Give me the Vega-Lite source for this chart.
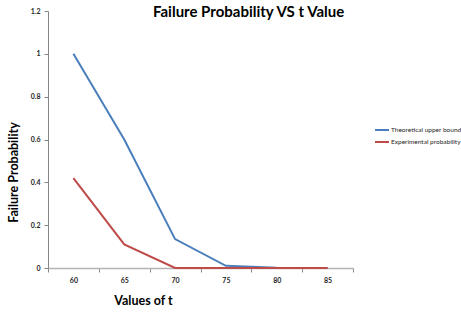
{
  "$schema": "https://vega.github.io/schema/vega-lite/v6.json",
  "width": 305,
  "height": 257,
  "autosize": {"type": "none"},
  "padding": {"left": 48, "top": 11, "right": 108, "bottom": 46},
  "background": "white",
  "title": {
    "text": "Failure Probability VS t Value",
    "anchor": "start",
    "frame": "group",
    "dx": 105,
    "offset": -13,
    "font": "Lato",
    "fontSize": 15,
    "fontWeight": "bold",
    "color": "#000000"
  },
  "data": {
    "values": [
      {"t": "60", "series": "Theoretical upper bound", "p": 1.0},
      {"t": "65", "series": "Theoretical upper bound", "p": 0.6},
      {"t": "70", "series": "Theoretical upper bound", "p": 0.135},
      {"t": "75", "series": "Theoretical upper bound", "p": 0.01},
      {"t": "80", "series": "Theoretical upper bound", "p": 0.001},
      {"t": "85", "series": "Theoretical upper bound", "p": 0.0},
      {"t": "60", "series": "Experimental probability", "p": 0.42},
      {"t": "65", "series": "Experimental probability", "p": 0.11},
      {"t": "70", "series": "Experimental probability", "p": 0.0},
      {"t": "75", "series": "Experimental probability", "p": 0.0},
      {"t": "80", "series": "Experimental probability", "p": 0.0},
      {"t": "85", "series": "Experimental probability", "p": 0.0}
    ]
  },
  "config": {
    "view": {"stroke": null},
    "font": "Lato"
  },
  "mark": {"type": "line", "strokeWidth": 2},
  "encoding": {
    "x": {
      "field": "t",
      "type": "ordinal",
      "bandPosition": 0.5,
      "scale": {"type": "band", "paddingInner": 0, "paddingOuter": 0},
      "axis": {
        "title": "Values of t",
        "titleX": 95,
        "titleY": 32,
        "titleBaseline": "middle",
        "titleFont": "Lato",
        "titleFontSize": 12.5,
        "titleFontWeight": "bold",
        "titleColor": "#000000",
        "labelAngle": 0,
        "labelFont": "Lato",
        "labelFontSize": 7,
        "labelFontWeight": "bold",
        "labelColor": "#262626",
        "labelPadding": 4,
        "tickBand": "extent",
        "tickSize": 4,
        "tickColor": "#868686",
        "domainColor": "#b3b3b3",
        "domainWidth": 1.5,
        "grid": false
      }
    },
    "y": {
      "field": "p",
      "type": "quantitative",
      "scale": {"domain": [0, 1.2], "nice": false, "zero": true},
      "axis": {
        "values": [0, 0.2, 0.4, 0.6, 0.8, 1, 1.2],
        "format": "~g",
        "title": "Failure Probability",
        "titleX": -35,
        "titleY": 161,
        "titleAngle": -90,
        "titleAlign": "center",
        "titleBaseline": "middle",
        "titleFont": "Lato",
        "titleFontSize": 12.5,
        "titleFontWeight": "bold",
        "titleColor": "#000000",
        "labelFont": "Lato",
        "labelFontSize": 7,
        "labelFontWeight": "bold",
        "labelColor": "#262626",
        "labelPadding": 4,
        "tickSize": 4,
        "tickColor": "#868686",
        "domainColor": "#868686",
        "domainWidth": 1,
        "grid": false
      }
    },
    "color": {
      "field": "series",
      "type": "nominal",
      "sort": ["Theoretical upper bound", "Experimental probability"],
      "scale": {
        "domain": ["Theoretical upper bound", "Experimental probability"],
        "range": ["#4a7ebb", "#be4b48"]
      },
      "legend": {
        "title": null,
        "orient": "none",
        "legendX": 326,
        "legendY": 111,
        "symbolType": "stroke",
        "symbolSize": 196,
        "symbolStrokeWidth": 2,
        "labelFont": "Lato",
        "labelFontSize": 6.5,
        "labelColor": "#262626",
        "labelOffset": 1,
        "labelLimit": 300,
        "rowPadding": 0
      }
    }
  }
}
